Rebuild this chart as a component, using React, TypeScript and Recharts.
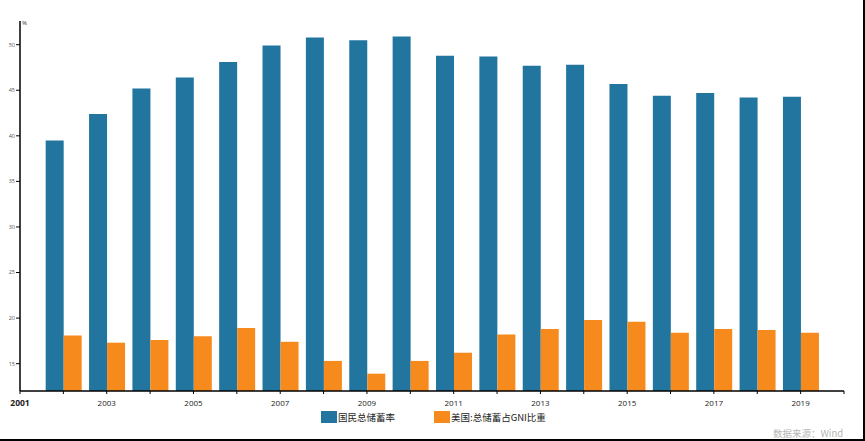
import React from 'react';
import { BarChart, Bar, XAxis, YAxis, Legend } from 'recharts';

// 年份 2002-2019
const years = [2002, 2003, 2004, 2005, 2006, 2007, 2008, 2009, 2010, 2011, 2012, 2013, 2014, 2015, 2016, 2017, 2018, 2019];
const chinaSaving = [39.5, 42.4, 45.2, 46.4, 48.1, 49.9, 50.8, 50.5, 50.9, 48.8, 48.7, 47.7, 47.8, 45.7, 44.4, 44.7, 44.2, 44.3];
const usSaving = [18.1, 17.3, 17.6, 18.0, 18.9, 17.4, 15.3, 13.9, 15.3, 16.2, 18.2, 18.8, 19.8, 19.6, 18.4, 18.8, 18.7, 18.4];
const xTicks = [2001, 2002, 2003, 2004, 2005, 2006, 2007, 2008, 2009, 2010, 2011, 2012, 2013, 2014, 2015, 2016, 2017, 2018, 2019, 2020];
const yTicks = [15, 20, 25, 30, 35, 40, 45, 50];
const seriesNames = ['国民总储蓄率', '美国:总储蓄占GNI比重'];

const BLUE = '#22759f';
const ORANGE = '#f78a1d';
const CJK = '"Noto Sans CJK SC", "Open Sans", sans-serif';
const NUM = '"Open Sans", "Noto Sans", sans-serif';

const data = years.map((year, i) => ({
  year,
  china: chinaSaving[i],
  us: usSaving[i],
}));

const XTick = (props: any) => {
  const { x, y, payload } = props;
  const v = payload.value;
  if (v % 2 === 0 || v === 2020) return null;
  const first = v === 2001;
  return (
    <text
      x={x}
      y={y + 10}
      textAnchor="middle"
      fontFamily={NUM}
      fontSize={first ? 8.5 : 8}
      fontWeight={first ? 700 : 400}
      fill="#222"
    >
      {v}
    </text>
  );
};

const LegendContent = () => (
  <div style={{ position: 'relative', width: 240, height: 14, fontFamily: CJK, fontSize: 9.5, color: '#222' }}>
    <div style={{ position: 'absolute', left: 0, top: 0, width: 16, height: 12, background: BLUE }} />
    <div style={{ position: 'absolute', left: 17, top: -1, whiteSpace: 'nowrap', lineHeight: '14px' }}>{seriesNames[0]}</div>
    <div style={{ position: 'absolute', left: 113, top: 0, width: 16, height: 12, background: ORANGE }} />
    <div style={{ position: 'absolute', left: 130, top: -1, whiteSpace: 'nowrap', lineHeight: '14px' }}>{seriesNames[1]}</div>
  </div>
);

export default function App() {
  return (
    <div style={{ position: 'absolute', left: 0, top: 0, width: 865, height: 441, background: '#fff' }}>
      <BarChart
        width={865}
        height={441}
        data={data}
        margin={{ top: 21, right: 21, left: 0, bottom: 0 }}
        barGap={0}
        barCategoryGap={0}
      >
        <XAxis
          type="number"
          dataKey="year"
          domain={[2001, 2020]}
          ticks={xTicks}
          interval={0}
          height={50}
          tick={<XTick />}
          tickSize={3}
          tickLine={{ stroke: '#000', strokeWidth: 1 }}
          axisLine={{ stroke: '#000', strokeWidth: 1.5 }}
        />
        <YAxis
          type="number"
          domain={[12, 52.6]}
          ticks={yTicks}
          allowDataOverflow
          width={20}
          tickSize={4}
          tickLine={{ stroke: '#000', strokeWidth: 1 }}
          axisLine={{ stroke: '#000', strokeWidth: 1.5 }}
          tick={{ fontSize: 5.5, fill: '#555', fontFamily: NUM }}
          tickMargin={1}
          label={{ value: '%', position: 'insideTopRight', dx: 12, dy: -5, fontSize: 6, fill: '#333', fontFamily: NUM }}
        />
        <Legend
          layout="horizontal"
          verticalAlign="middle"
          align="center"
          content={<LegendContent />}
          wrapperStyle={{ position: 'absolute', left: 321, top: 411, width: 240, height: 14 }}
        />
        <Bar dataKey="china" name={seriesNames[0]} fill={BLUE} barSize={18} isAnimationActive={false} />
        <Bar dataKey="us" name={seriesNames[1]} fill={ORANGE} barSize={18} isAnimationActive={false} />
      </BarChart>
      <div
        style={{
          position: 'absolute',
          left: 773,
          top: 426,
          fontFamily: CJK,
          fontSize: 9.5,
          color: '#b5b5b5',
          whiteSpace: 'nowrap',
        }}
      >
        数据来源：Wind
      </div>
      <div
        style={{
          position: 'absolute',
          left: 0,
          top: 0,
          width: 865,
          height: 441,
          boxSizing: 'border-box',
          borderRight: '2px solid #000',
          borderBottom: '2px solid #000',
          pointerEvents: 'none',
        }}
      />
    </div>
  );
}
